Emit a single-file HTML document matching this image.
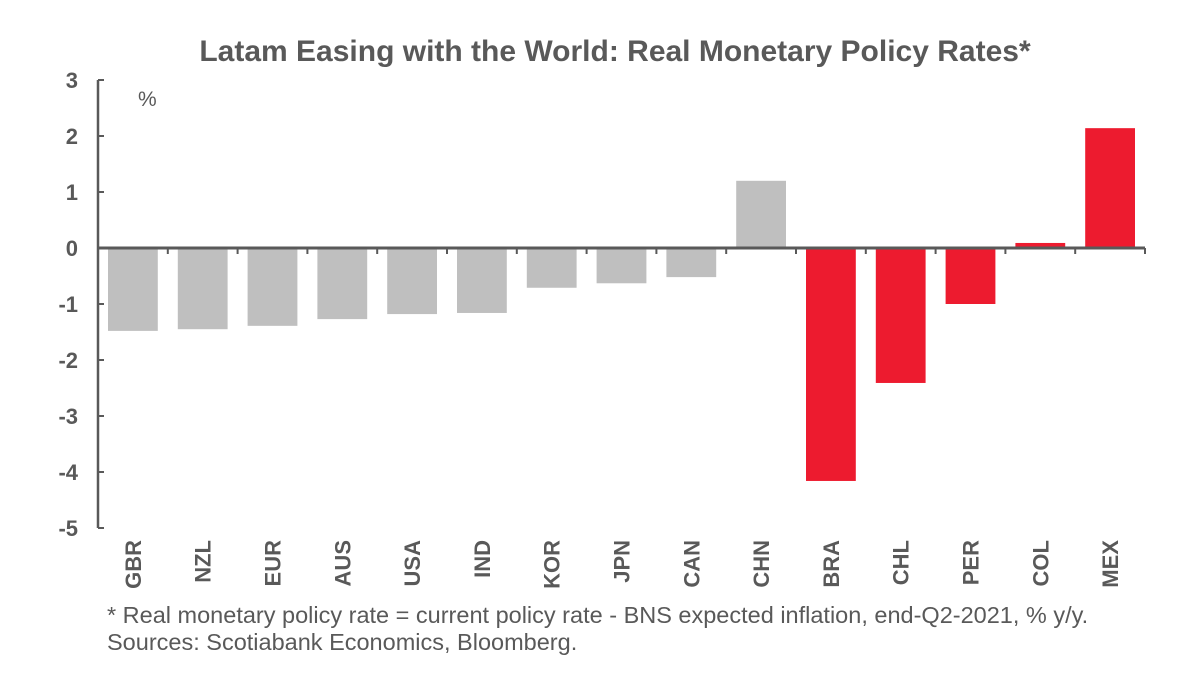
<!DOCTYPE html>
<html><head><meta charset="utf-8"><style>
body{margin:0;background:#fff}
svg text{font-family:"Liberation Sans",Arial,sans-serif;fill:#595959}
</style></head><body>
<svg width="1200" height="686" viewBox="0 0 1200 686">
<text x="615" y="61" text-anchor="middle" font-size="30" font-weight="bold">Latam Easing with the World: Real Monetary Policy Rates*</text>
<text x="138" y="106" font-size="21">%</text>
<g id="bars"></g>
<g id="axes"></g>
<text x="107" y="623" font-size="23.5">* Real monetary policy rate = current policy rate - BNS expected inflation, end-Q2-2021, % y/y.</text>
<text x="107" y="650" font-size="23.5">Sources: Scotiabank Economics, Bloomberg.</text>
</svg>
<script>
const categories=["GBR","NZL","EUR","AUS","USA","IND","KOR","JPN","CAN","CHN","BRA","CHL","PER","COL","MEX"];
const values=[-1.48,-1.45,-1.39,-1.27,-1.18,-1.16,-0.71,-0.63,-0.52,1.2,-4.16,-2.41,-1.0,0.09,2.14];
const latam=[false,false,false,false,false,false,false,false,false,false,true,true,true,true,true];
const yTicks=[3,2,1,0,-1,-2,-3,-4,-5];
const NS="http://www.w3.org/2000/svg";
const x0=98,x1=1145,yTop=80,yBot=528,vMax=3,vMin=-5;
const bw=(x1-x0)/categories.length;
function y(v){return yTop+(vMax-v)/(vMax-vMin)*(yBot-yTop);}
function x(i){return x0+i*bw;}
function mk(tag,attrs,parent){const e=document.createElementNS(NS,tag);for(const k in attrs)e.setAttribute(k,attrs[k]);parent.appendChild(e);return e;}
const bars=document.getElementById('bars'),axes=document.getElementById('axes');
values.forEach((v,i)=>{
  const r=mk('rect',{x:x(i)+10,width:bw-20,y:Math.min(y(v),y(0)),height:Math.abs(y(v)-y(0)),fill:latam[i]?'#ED1B2F':'#BFBFBF'},bars);
  
  
  const t=mk('text',{transform:`translate(${x(i)+bw/2+8},540) rotate(-90)`,'text-anchor':'end','font-size':'22','font-weight':'bold'},axes);
  t.textContent=categories[i];
  
  
  const tk=mk('line',{x1:x(i+1),x2:x(i+1),y1:y(0),y2:y(0)+6,stroke:'#595959','stroke-width':2},axes);
  
  
});
const ya=mk('line',{x1:x0,x2:x0,y1:y(vMax),y2:y(vMin),stroke:'#595959','stroke-width':2.5},axes);


const xa=mk('line',{x1:x0,x2:x1,y1:y(0),y2:y(0),stroke:'#595959','stroke-width':3},axes);


yTicks.forEach(v=>{
  const l=mk('line',{x1:x0,x2:x0+6,y1:y(v),y2:y(v),stroke:'#595959','stroke-width':2},axes);
  
  
  const t=mk('text',{x:78,y:y(v)+8,'text-anchor':'end','font-size':'22','font-weight':'bold'},axes);
  t.textContent=v;
  
  
});
</script>
</body></html>
